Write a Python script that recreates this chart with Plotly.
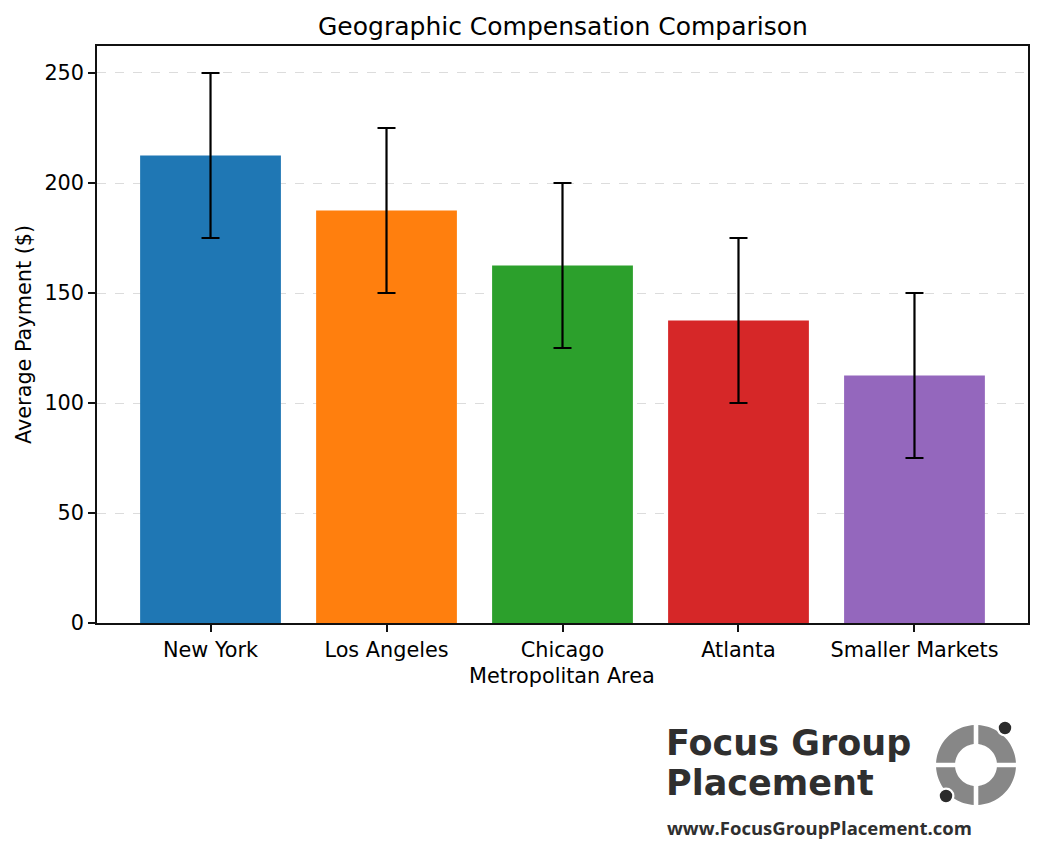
import math
import plotly.graph_objects as go

# ---- data ----
areas = ["New York", "Los Angeles", "Chicago", "Atlanta", "Smaller Markets"]
avg_payment = [212.5, 187.5, 162.5, 137.5, 112.5]
err_payment = [37.5, 37.5, 37.5, 37.5, 37.5]
bar_colors = ["#1f77b4", "#ff7f0e", "#2ca02c", "#d62728", "#9467bd"]
y_ticks = [0, 50, 100, 150, 200, 250]

W, H = 1042, 862
L, R, T, B = 97, 1028, 46, 623
PW, PH = R - L, B - T

def px(x):
    return (x - L) / PW

def py(y):
    return (B - y) / PH

FONT = "DejaVu Sans"
FS = 20.8

fig = go.Figure()
fig.add_trace(go.Bar(
    x=list(range(len(areas))), y=avg_payment,
    marker=dict(color=bar_colors, line=dict(width=0)),
    width=0.8,
    error_y=dict(type="data", array=err_payment, visible=True,
                 color="black", thickness=2.2, width=9),
    showlegend=False,
))

fig.update_layout(
    width=W, height=H,
    margin=dict(l=L, r=W - R, t=T, b=H - B),
    paper_bgcolor="white", plot_bgcolor="white",
    font=dict(family=FONT, size=FS, color="black"),
    xaxis=dict(range=[-0.645, 4.645], tickvals=list(range(len(areas))),
               ticktext=areas, showgrid=False, zeroline=False,
               showline=True, linecolor="#111111", linewidth=1.5, mirror=True,
               ticks="outside", ticklen=7, tickwidth=1.5, tickcolor="#111111",
               tickfont=dict(family=FONT, size=FS, color="black")),
    yaxis=dict(range=[0, 262.27], tickvals=y_ticks,
               showgrid=True, gridcolor="#dcdcdc", griddash="dash", gridwidth=1.2,
               zeroline=False,
               showline=True, linecolor="#111111", linewidth=1.5, mirror=True,
               ticks="outside", ticklen=7, tickwidth=1.5, tickcolor="#111111",
               tickfont=dict(family=FONT, size=FS, color="black")),
)

ann = []
ann.append(dict(text="Geographic Compensation Comparison", x=px(563), y=py(26),
                xref="paper", yref="paper", xanchor="center", yanchor="middle",
                showarrow=False, font=dict(family=FONT, size=25, color="black")))
ann.append(dict(text="Metropolitan Area", x=px(562), y=py(676),
                xref="paper", yref="paper", xanchor="center", yanchor="middle",
                showarrow=False, font=dict(family=FONT, size=FS, color="black")))
ann.append(dict(text="Average Payment ($)", x=px(24), y=py(335), textangle=-90,
                xref="paper", yref="paper", xanchor="center", yanchor="middle",
                showarrow=False, font=dict(family=FONT, size=FS, color="black")))

LOGO_FONT = "DejaVu Sans"
LOGO_COL = "#2f2f2f"
ann.append(dict(text="<b>Focus Group</b>", x=px(664), y=py(743),
                xref="paper", yref="paper", xanchor="left", yanchor="middle",
                showarrow=False, font=dict(family=LOGO_FONT, size=35, color=LOGO_COL)))
ann.append(dict(text="<b>Placement</b>", x=px(664), y=py(783),
                xref="paper", yref="paper", xanchor="left", yanchor="middle",
                showarrow=False, font=dict(family=LOGO_FONT, size=35, color=LOGO_COL)))
ann.append(dict(text="<b>www.FocusGroupPlacement.com</b>", x=px(665), y=py(827),
                xref="paper", yref="paper", xanchor="left", yanchor="middle",
                showarrow=False, font=dict(family="Open Sans", size=18.5, color=LOGO_COL)))
fig.update_layout(annotations=ann)

# ---- logo icon (decoration) ----
cx, cy, Ro, Ri, g = 976, 765, 40, 21, 2.3
shapes = []
for sx, sy in [(1, -1), (-1, -1), (-1, 1), (1, 1)]:
    pts = []
    n = 24
    a0o, a1o = math.asin(g / Ro), math.pi / 2 - math.asin(g / Ro)
    a0i, a1i = math.asin(g / Ri), math.pi / 2 - math.asin(g / Ri)
    for k in range(n + 1):
        a = a0o + (a1o - a0o) * k / n
        pts.append((cx + sx * Ro * math.cos(a), cy + sy * Ro * math.sin(a)))
    for k in range(n + 1):
        a = a1i - (a1i - a0i) * k / n
        pts.append((cx + sx * Ri * math.cos(a), cy + sy * Ri * math.sin(a)))
    path = "M " + " L ".join(f"{px(x):.5f},{py(y):.5f}" for x, y in pts) + " Z"
    shapes.append(dict(type="path", path=path, xref="paper", yref="paper",
                       fillcolor="#878787", line=dict(width=0), layer="above"))

for dx, dy in [(1005, 728), (946, 796)]:
    for rad, col in [(8.5, "white"), (6.2, "#2b2b2b")]:
        shapes.append(dict(type="circle", xref="paper", yref="paper",
                           x0=px(dx - rad), x1=px(dx + rad),
                           y0=py(dy + rad), y1=py(dy - rad),
                           fillcolor=col, line=dict(width=0), layer="above"))
fig.update_layout(shapes=shapes)

fig.write_html("out.html")
